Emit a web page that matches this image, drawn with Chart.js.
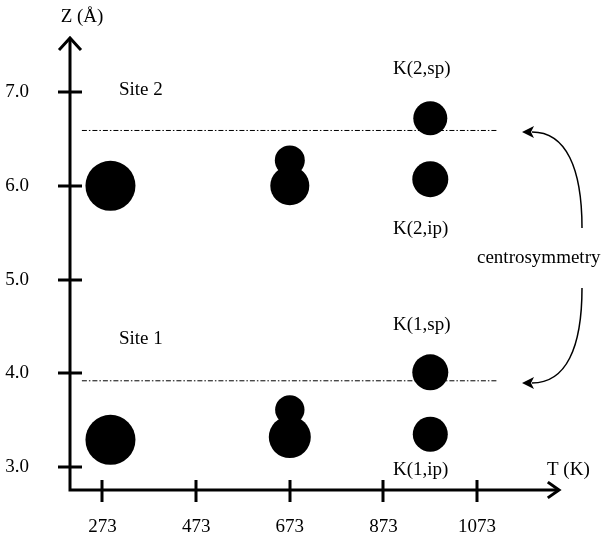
<!DOCTYPE html>
<html>
<head>
<meta charset="utf-8">
<script src="https://cdn.jsdelivr.net/npm/chart.js@4"></script>
<style>
html,body{margin:0;padding:0;background:#fff;}
canvas{display:block;}
</style>
</head>
<body>
<canvas id="c" width="602" height="539"></canvas>
<script>
// ---- data ----
const xTickValues = [273, 473, 673, 873, 1073];          // T (K) tick labels
const yTickValues = [3.0, 4.0, 5.0, 6.0, 7.0];           // Z (Å) tick labels
const bubbleT = [290, 290, 673, 673, 673, 673, 973, 973, 973, 973];
const bubbleZ = [6.00, 3.29, 6.27, 6.00, 3.61, 3.32, 6.72, 6.07, 4.01, 3.35];
const bubbleR = [25, 25, 15, 19.5, 14.7, 21, 17, 18, 18, 17.5];
const siteLineZ = [6.59, 3.92];                           // dash-dot reference levels
const siteLineT = [229, 1118];                            // start / end of those lines
const textLabels = ["Site 2", "Site 1", "K(2,sp)", "K(2,ip)", "K(1,sp)", "K(1,ip)"];

const FONT = "Liberation Serif";
const FS = 19;

const bubbleData = bubbleT.map((t, i) => ({x: t, y: bubbleZ[i], r: bubbleR[i]}));
const lineSets = siteLineZ.map(z => ({
  type: 'line',
  data: siteLineT.map(t => ({x: t, y: z})),
  borderColor: '#000',
  borderWidth: 1,
  borderDash: [5, 2, 1.5, 2],
  pointRadius: 0,
  fill: false,
  order: 2
}));

const decor = {
  id: 'decor',
  afterDatasetsDraw(chart) {
    const ctx = chart.ctx;
    const xs = chart.scales.x, ys = chart.scales.y;
    const x0 = xs.left, y0 = ys.bottom, x1 = xs.right, yTop = ys.top;
    ctx.save();
    ctx.strokeStyle = '#000';
    ctx.fillStyle = '#000';
    ctx.lineWidth = 3;
    ctx.lineCap = 'butt';
    // axes
    ctx.beginPath();
    ctx.moveTo(x0, yTop + 1); ctx.lineTo(x0, y0 + 1.5);
    ctx.moveTo(x0 - 1.5, y0); ctx.lineTo(x1 - 1, y0);
    ctx.stroke();
    // arrow heads
    ctx.lineCap = 'square';
    ctx.lineJoin = 'miter';
    ctx.beginPath();
    ctx.moveTo(x0 - 10, yTop + 12); ctx.lineTo(x0, yTop + 1); ctx.lineTo(x0 + 10, yTop + 12);
    ctx.moveTo(x1 - 11, y0 - 7); ctx.lineTo(x1 - 1, y0); ctx.lineTo(x1 - 11, y0 + 7);
    ctx.stroke();
    ctx.lineCap = 'butt';
    // tick marks crossing the axes
    ctx.beginPath();
    xTickValues.forEach(v => {
      const px = Math.round(xs.getPixelForValue(v));
      ctx.moveTo(px, y0 - 10); ctx.lineTo(px, y0 + 12);
    });
    yTickValues.forEach(v => {
      const py = Math.round(ys.getPixelForValue(v));
      ctx.moveTo(x0 - 12, py); ctx.lineTo(x0 + 12, py);
    });
    ctx.stroke();

    // texts
    ctx.font = FS + 'px "' + FONT + '"';
    ctx.textBaseline = 'alphabetic';
    ctx.textAlign = 'center';
    ctx.fillText('Z (Å)', x0 + 12, 22);
    ctx.textAlign = 'left';
    ctx.fillText('T (K)', 547, 475);
    const labelPos = [[119, 95], [119, 344], [393, 74], [393, 234], [393, 330], [393, 475]];
    textLabels.forEach((s, i) => ctx.fillText(s, labelPos[i][0], labelPos[i][1]));
    ctx.fillText('centrosymmetry', 477, 263);

    // curved arrows (centrosymmetry)
    ctx.lineWidth = 1.5;
    ctx.beginPath();
    ctx.moveTo(582, 228);
    ctx.bezierCurveTo(582, 168, 566, 132, 532, 132);
    ctx.moveTo(582, 288);
    ctx.bezierCurveTo(582, 348, 566, 383, 532, 383);
    ctx.stroke();
    [132, 383].forEach(y => {
      ctx.beginPath();
      ctx.moveTo(522, y);
      ctx.lineTo(534, y - 6);
      ctx.lineTo(531, y);
      ctx.lineTo(534, y + 6);
      ctx.closePath();
      ctx.fill();
    });
    ctx.restore();
  }
};

new Chart(document.getElementById('c'), {
  type: 'bubble',
  data: {
    datasets: [
      {
        data: bubbleData,
        backgroundColor: '#000',
        borderColor: '#000',
        borderWidth: 0,
        hoverBorderWidth: 0,
        order: 1
      },
      ...lineSets
    ]
  },
  options: {
    responsive: false,
    animation: false,
    devicePixelRatio: 1,
    clip: false,
    layout: {padding: {left: 0, top: 37, right: 42, bottom: 0}},
    plugins: {legend: {display: false}, tooltip: {enabled: false}},
    scales: {
      x: {
        type: 'linear',
        min: 203.6, max: 1250,
        grid: {display: false},
        border: {display: false},
        afterBuildTicks: s => { s.ticks = xTickValues.map(v => ({value: v})); },
        afterFit: s => { s.height = 49; s.paddingLeft = 0; s.paddingRight = 0; },
        ticks: {
          color: '#000', padding: 18,
          font: {family: FONT, size: FS},
          callback: v => String(v),
          maxRotation: 0, autoSkip: false
        }
      },
      y: {
        type: 'linear',
        min: 2.755, max: 7.587,
        grid: {display: false},
        border: {display: false},
        afterBuildTicks: s => { s.ticks = yTickValues.map(v => ({value: v})); },
        afterFit: s => { s.width = 70; s.paddingTop = 0; s.paddingBottom = 0; },
        ticks: {
          color: '#000', padding: 33,
          font: {family: FONT, size: FS},
          callback: v => Number(v).toFixed(1)
        }
      }
    }
  },
  plugins: [decor]
});
</script>
</body>
</html>
